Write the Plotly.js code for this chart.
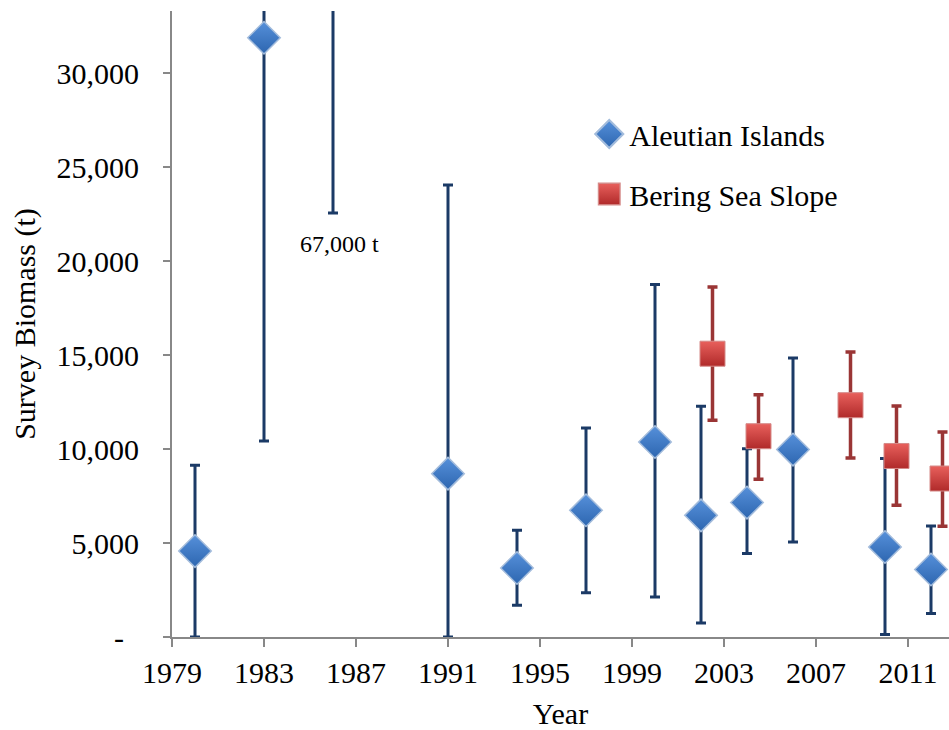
<!DOCTYPE html>
<html>
<head>
<meta charset="utf-8">
<script src="https://cdn.plot.ly/plotly-3.0.1.min.js"></script>
<style>html,body{margin:0;padding:0;background:#fff;}#chart{width:949px;height:730px;}</style>
</head>
<body>
<div id="chart"></div>
<script>
// ---- data ----
var aiYears   = [1980, 1983, 1986, 1991, 1994, 1997, 2000, 2002, 2004, 2006, 2010, 2012];
var aiBiomass = [4570, 31880, 67000, 8690, 3670, 6740, 10370, 6470, 7150, 9970, 4790, 3590];
var aiLower   = [0, 10430, 22550, 0, 1690, 2360, 2130, 750, 4440, 5050, 130, 1250];
var aiUpper   = [9130, 53330, 111450, 24040, 5680, 11120, 18750, 12270, 10020, 14840, 9490, 5900];

var bssYears   = [2002, 2004, 2008, 2010, 2012];
var bssBiomass = [15070, 10680, 12330, 9630, 8430];
var bssLower   = [11530, 8390, 9520, 7010, 5890];
var bssUpper   = [18620, 12890, 15160, 12290, 10900];

var xTickYears = [1979, 1983, 1987, 1991, 1995, 1999, 2003, 2007, 2011, 2015];
var yTickVals  = [0, 5000, 10000, 15000, 20000, 25000, 30000];
var yTickText  = ['-\u00a0\u00a0', '5,000', '10,000', '15,000', '20,000', '25,000', '30,000'];

var seriesNames = ['Aleutian Islands', 'Bering Sea Slope'];
var offChartYear = 1986;

// ---- build ----
var bssShift = 0.5; // slope points drawn half a year right, as in the reference
function diff(a, b) { return a.map(function (v, i) { return v - b[i]; }); }

var FONT = 'Liberation Serif';

var aiTrace = {
  type: 'scatter', mode: 'markers', name: seriesNames[0], legendgroup: 'ai',
  x: aiYears, y: aiBiomass,
  error_y: { type: 'data', symmetric: false, array: diff(aiUpper, aiBiomass), arrayminus: diff(aiBiomass, aiLower),
             color: '#1b3a66', thickness: 3, width: 5 },
  marker: { symbol: 'diamond', size: 25, color: '#5690da',
            gradient: { type: 'vertical', color: '#2d66b0' },
            line: { color: '#a3bcdc', width: 1.5 } }
};
var bssTrace = {
  type: 'scatter', mode: 'markers', name: seriesNames[1], legendgroup: 'bss',
  x: bssYears.map(function (y) { return y + bssShift; }), y: bssBiomass,
  error_y: { type: 'data', symmetric: false, array: diff(bssUpper, bssBiomass), arrayminus: diff(bssBiomass, bssLower),
             color: '#9a3535', thickness: 3.5, width: 5 },
  marker: { symbol: 'square', size: 25, color: '#e8605c',
            gradient: { type: 'vertical', color: '#b02a2a' },
            line: { color: '#d58a88', width: 1 } }
};

var offIdx = aiYears.indexOf(offChartYear);
var offLabel = aiBiomass[offIdx].toLocaleString('en-US') + ' t';

var layout = {
  width: 949, height: 730,
  margin: { l: 172, r: 0, t: 11, b: 93 },
  paper_bgcolor: '#ffffff', plot_bgcolor: '#ffffff',
  font: { family: FONT, size: 30, color: '#000' },
  showlegend: true,
  legend: { x: 0.537, y: 0.845, xanchor: 'left', yanchor: 'top', bgcolor: 'rgba(0,0,0,0)',
            font: { family: FONT, size: 30, color: '#000' }, tracegroupgap: 18, itemsizing: 'trace' },
  xaxis: {
    range: [1979, 1979 + 777 / 23], tickmode: 'array', tickvals: xTickYears,
    ticktext: xTickYears.map(String),
    showgrid: false, zeroline: false, showline: true, linecolor: '#888888', linewidth: 2,
    ticks: 'outside', ticklen: 8, tickwidth: 1.5, tickcolor: '#888888',
    tickfont: { family: FONT, size: 30, color: '#000' },
    title: { text: 'Year', font: { family: FONT, size: 30, color: '#000' }, standoff: 15 }
  },
  yaxis: {
    range: [0, 33300], tickmode: 'array', tickvals: yTickVals, ticktext: yTickText,
    showgrid: false, zeroline: false, showline: true, linecolor: '#888888', linewidth: 2,
    ticks: 'outside', ticklen: 7, tickwidth: 1.5, tickcolor: '#888888',
    ticklabelstandoff: 18,
    tickfont: { family: FONT, size: 30, color: '#000' },
    title: { text: 'Survey Biomass (t)', font: { family: FONT, size: 30, color: '#000' }, standoff: 12 }
  },
  annotations: [{
    x: offChartYear, y: 20900, xref: 'x', yref: 'y', text: offLabel, showarrow: false,
    xanchor: 'center', yanchor: 'middle', xshift: 6,
    font: { family: FONT, size: 24, color: '#000' }
  }]
};

Plotly.newPlot('chart', [aiTrace, bssTrace], layout, { displayModeBar: false, staticPlot: true })
  .then(function (gd) {
    // legend symbols a little larger, as in the reference
    gd.querySelectorAll('.legendpoints path.scatterpts').forEach(function (el) {
      var t = el.getAttribute('transform') || '';
      el.setAttribute('transform', t + ' scale(1.35)');
    });
  });
</script>
</body>
</html>
